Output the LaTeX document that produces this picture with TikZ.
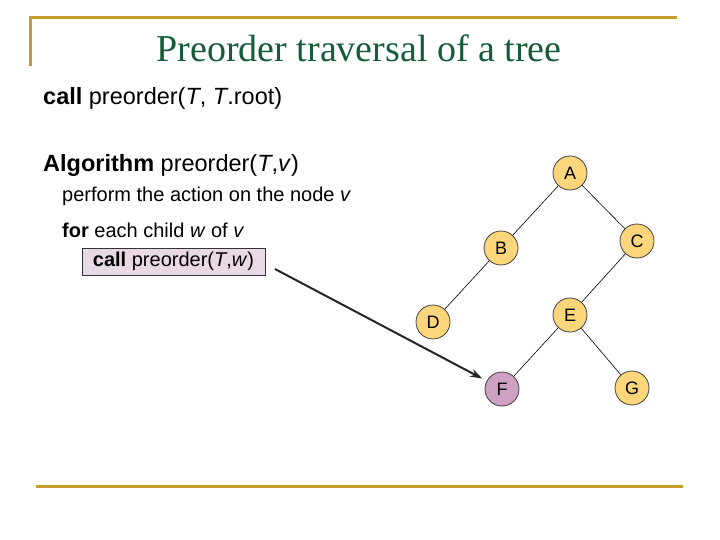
\documentclass[tikz,border=0pt]{standalone}
\usepackage{fontspec}
\setmainfont{Liberation Sans}
\newfontfamily\titlefont{Liberation Serif}
\usetikzlibrary{arrows.meta,positioning,calc}
\definecolor{gold}{RGB}{196,158,44}
\definecolor{titlegreen}{RGB}{22,92,56}
\definecolor{nodeyellow}{RGB}{253,214,124}
\definecolor{nodemauve}{RGB}{205,160,196}
\definecolor{boxpink}{RGB}{233,217,229}

\begin{document}
\begin{tikzpicture}[
  x=1pt, y=-1pt,
  rule/.style={draw=gold, line width=3pt},
  bigline/.style={anchor=base west, inner sep=0pt, font=\fontsize{23.5}{26}\selectfont},
  codeline/.style={anchor=base west, inner sep=0pt, font=\fontsize{20}{24}\selectfont},
  tnode/.style={circle, draw=black!75, line width=0.8pt, fill=nodeyellow, minimum size=34pt, inner sep=0pt, font=\fontsize{18}{20}\selectfont},
  edge/.style={draw=black, line width=0.6pt},
  call/.style={-{Stealth[length=12pt,width=8pt]}, line width=2pt, draw=black!85}
]
\useasboundingbox (0,0) rectangle (720,540);
\draw[rule] (30,66)--(30,18)--(677,18);
\draw[rule] (36,486)--(683,486);
\node[anchor=base, inner sep=0pt, text=titlegreen, font=\titlefont\fontsize{38}{42}\selectfont] (title) at (359,62) {Preorder traversal of a tree};

\node[bigline] (start) at (43,105) {\textbf{call} preorder(\textit{T}, \textit{T}.root)};
\node[bigline] (algo) at (43,172) {\textbf{Algorithm} preorder(\textit{T},\textit{v})};
\node[codeline] (action) at (62,202) {perform the action on the node \textit{v}};
\node[codeline] (loop) at (62,237) {\textbf{for} each child \textit{w} of \textit{v}};
\node[draw=black!80, fill=boxpink, line width=0.8pt, minimum width=183pt, minimum height=27pt, font=\fontsize{20}{24}\selectfont] (callbox) at (173.5,261.5) {\textbf{call} preorder(\textit{T},\textit{w})};

\node[tnode] (A) at (570,173) {A};
\node[tnode] (B) at (501,248) {B};
\node[tnode] (C) at (637,241) {C};
\node[tnode] (D) at (433,322) {D};
\node[tnode] (E) at (570,315) {E};
\node[tnode, fill=nodemauve] (F) at (502,389) {F};
\node[tnode] (G) at (632,388) {G};

\draw[edge] (A)--(B);
\draw[edge] (A)--(C);
\draw[edge] (B)--(D);
\draw[edge] (C)--(E);
\draw[edge] (E)--(F);
\draw[edge] (E)--(G);

\coordinate (callsrc) at (275,269);
\draw[call, shorten >=5pt] (callsrc)--(F);
\end{tikzpicture}
\end{document}
